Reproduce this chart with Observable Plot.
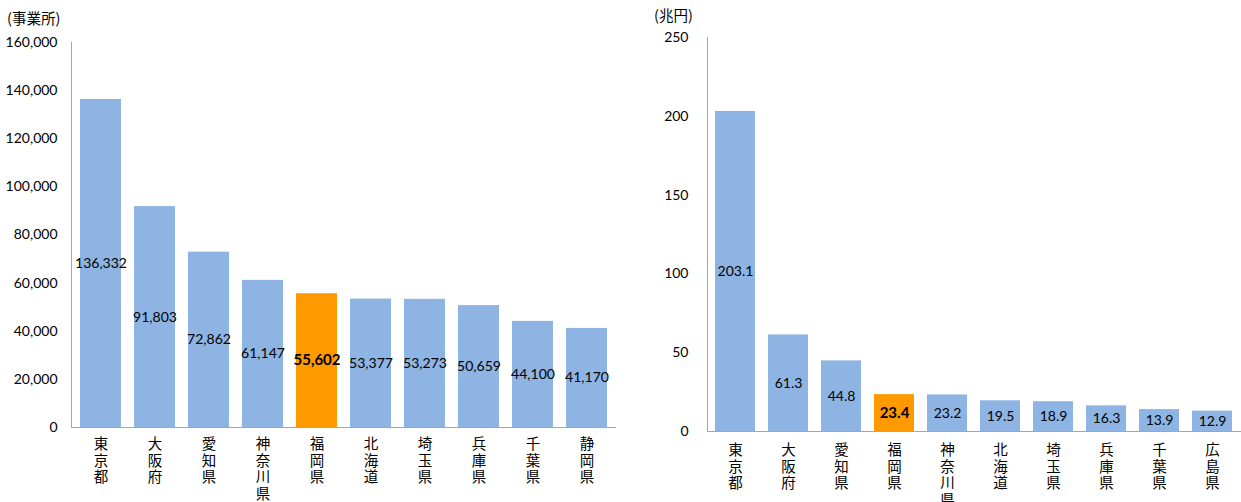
<!DOCTYPE html>
<html>
<head>
<meta charset="utf-8">
<script src="https://cdn.jsdelivr.net/npm/d3@7"></script>
<script src="https://cdn.jsdelivr.net/npm/@observablehq/plot@0.6"></script>
<style>
  html, body { margin: 0; padding: 0; background: #fff; }
  #wrap { position: relative; width: 1241px; height: 502px; overflow: hidden; }
  .panel { position: absolute; top: 0; }
  .unit { position: absolute; font-family: "Noto Sans CJK JP", sans-serif; font-size: 14.5px; color: #000; white-space: nowrap; line-height: 1; }
</style>
</head>
<body>
<div id="wrap">
  <div class="panel" id="left" style="left:0px"></div>
  <div class="panel" id="right" style="left:625px"></div>
  <div class="unit" style="left:7px; top:11px">(事業所)</div>
  <div class="unit" style="left:654px; top:8px">(兆円)</div>
</div>
<script>
// 事業所数（都道府県別 上位10）
const officePrefs = ["東京都", "大阪府", "愛知県", "神奈川県", "福岡県", "北海道", "埼玉県", "兵庫県", "千葉県", "静岡県"];
const officeCounts = [136332, 91803, 72862, 61147, 55602, 53377, 53273, 50659, 44100, 41170];
const officeTicks = [0, 20000, 40000, 60000, 80000, 100000, 120000, 140000, 160000];

// 売上高（兆円、都道府県別 上位10）
const salesPrefs = ["東京都", "大阪府", "愛知県", "福岡県", "神奈川県", "北海道", "埼玉県", "兵庫県", "千葉県", "広島県"];
const salesValues = [203.1, 61.3, 44.8, 23.4, 23.2, 19.5, 18.9, 16.3, 13.9, 12.9];
const salesTicks = [0, 50, 100, 150, 200, 250];

const highlight = "福岡県";
const BLUE = "#8eb4e3";
const ORANGE = "#ff9900";
const AXIS = "#a6a6a6";
const NUM_FONT = "Lato, 'Liberation Sans', sans-serif";
const JP_FONT = "'Noto Sans CJK JP', sans-serif";

function barChart({names, values, ticks, yMax, fmt, width, marginLeft, marginRight, marginTop, marginBottom, paddingOuter, tickPadding, labelPad}) {
  const data = names.map((name, i) => ({name, value: values[i]}));
  const isHi = d => d.name === highlight;
  return Plot.plot({
    width,
    height: 502,
    marginLeft,
    marginRight,
    marginTop,
    marginBottom,
    style: {fontFamily: NUM_FONT, fontSize: "14px", color: "#000", background: "#fff"},
    x: {domain: names, paddingInner: 0.24, paddingOuter, label: null},
    y: {domain: [0, yMax], label: null},
    marks: [
      Plot.barY(data, {x: "name", y: "value", fill: d => isHi(d) ? ORANGE : BLUE}),
      Plot.frame({anchor: "left", stroke: AXIS}),
      Plot.ruleY([0], {stroke: AXIS}),
      Plot.axisY({ticks, tickSize: 0, tickPadding: labelPad, tickFormat: fmt, fontSize: 14, label: null}),
      // prefecture names written top-to-bottom, one character per line
      Plot.axisX({
        tickSize: 0,
        tickPadding,
        tickFormat: d => [...d].join("\n"),
        lineHeight: 1.17,
        fontSize: 14.5,
        fontFamily: JP_FONT,
        label: null
      }),
      // value labels in the middle of each bar; the highlighted one in bold
      Plot.text(data.filter(d => !isHi(d)), {
        x: "name",
        y: d => d.value / 2,
        text: d => fmt(d.value),
        fontSize: 14,
        fill: "#000"
      }),
      Plot.text(data.filter(isHi), {
        x: "name",
        y: d => d.value / 2,
        text: d => fmt(d.value),
        fontSize: 15,
        fontWeight: "bold",
        fill: "#000"
      })
    ]
  });
}

document.getElementById("left").appendChild(barChart({
  names: officePrefs,
  values: officeCounts,
  ticks: officeTicks,
  yMax: 160000,
  fmt: d3.format(","),
  width: 625,
  marginLeft: 71,
  marginRight: 9,
  marginTop: 42,
  marginBottom: 75,
  paddingOuter: 0.15,
  tickPadding: 9,
  labelPad: 14
}));

document.getElementById("right").appendChild(barChart({
  names: salesPrefs,
  values: salesValues,
  ticks: salesTicks,
  yMax: 250,
  fmt: d => d3.format(".1f")(d).replace(/\.0$/, ""),
  width: 616,
  marginLeft: 82,
  marginRight: 0,
  marginTop: 37,
  marginBottom: 71,
  paddingOuter: 0.1,
  tickPadding: 11,
  labelPad: 19
}));
</script>
</body>
</html>
